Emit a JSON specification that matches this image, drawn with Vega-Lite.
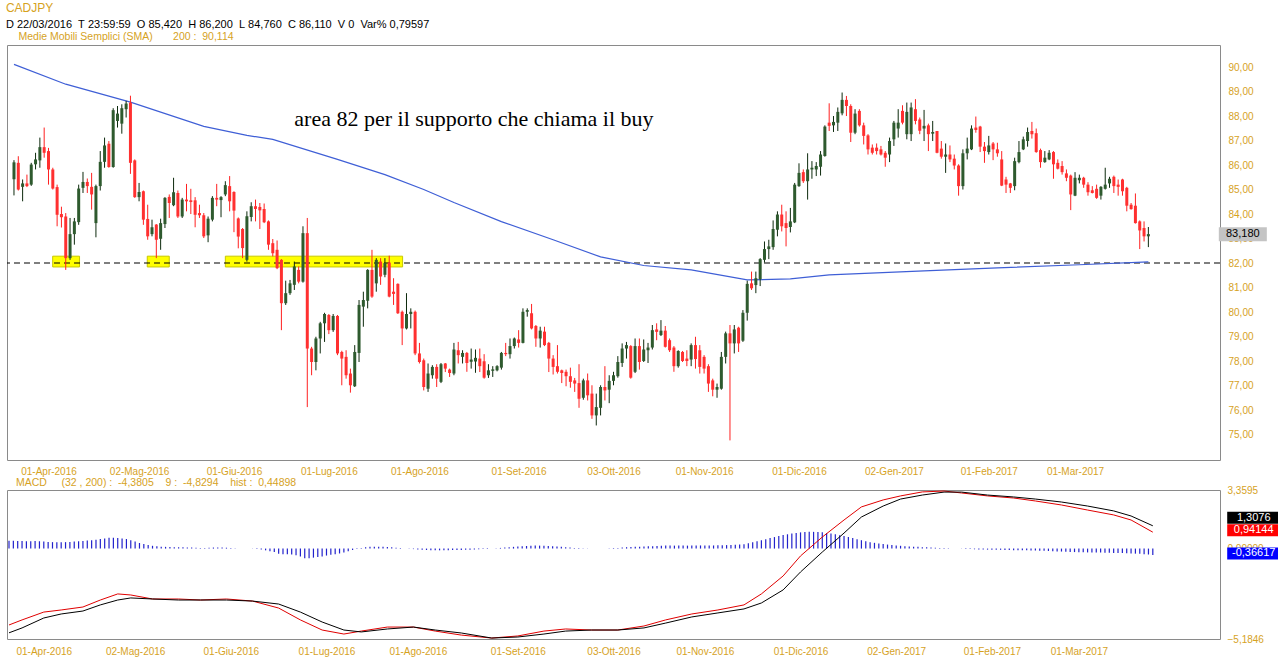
{
"$schema":"https://vega.github.io/schema/vega-lite/v6.json",
"background":"white",
"padding":{"left":5,"top":2,"right":0,"bottom":0},
"config":{"view":{"stroke":"#8a8a8a","strokeWidth":1},"font":"Liberation Sans","concat":{"spacing":0},"axis":{"labelOverlap":false,"labelSeparation":0}},
"title":{"text":"CADJPY","subtitle":"D\u00a022/03/2016\u00a0\u00a0T\u00a023:59:59\u00a0\u00a0O\u00a085,420\u00a0\u00a0H\u00a086,200\u00a0\u00a0L\u00a084,760\u00a0\u00a0C\u00a086,110\u00a0\u00a0V\u00a00\u00a0\u00a0Var%\u00a00,79597","anchor":"start","color":"#d6a21e","subtitleColor":"#000000","font":"Liberation Sans","subtitleFont":"Liberation Sans","fontSize":12,"subtitleFontSize":11,"fontWeight":"normal","subtitlePadding":4,"offset":0},
"datasets":{
"bars":[
{"i":0,"o":85.42,"h":86.2,"l":84.76,"c":86.11,"hs":0.45},
{"i":1,"o":86.09,"h":86.36,"l":84.96,"c":85.0,"hs":0.45},
{"i":2,"o":85.11,"h":85.41,"l":84.52,"c":85.25,"hs":0.44},
{"i":3,"o":85.25,"h":85.61,"l":85.1,"c":85.14,"hs":0.44},
{"i":4,"o":85.2,"h":86.09,"l":85.15,"c":86.02,"hs":0.42},
{"i":5,"o":86.03,"h":86.5,"l":85.82,"c":86.23,"hs":0.42},
{"i":6,"o":86.19,"h":87.12,"l":85.89,"c":86.73,"hs":0.43},
{"i":7,"o":86.73,"h":87.53,"l":86.3,"c":86.5,"hs":0.42},
{"i":8,"o":86.57,"h":86.7,"l":85.2,"c":85.82,"hs":0.40},
{"i":9,"o":85.82,"h":85.89,"l":85.0,"c":85.04,"hs":0.38},
{"i":10,"o":85.1,"h":85.2,"l":83.5,"c":83.97,"hs":0.37},
{"i":11,"o":84.0,"h":84.3,"l":83.45,"c":83.87,"hs":0.36},
{"i":12,"o":83.9,"h":84.04,"l":81.72,"c":82.2,"hs":0.36},
{"i":13,"o":82.2,"h":83.84,"l":82.13,"c":83.18,"hs":0.37},
{"i":14,"o":83.18,"h":83.84,"l":82.75,"c":83.7,"hs":0.38},
{"i":15,"o":83.67,"h":85.2,"l":83.56,"c":85.04,"hs":0.40},
{"i":16,"o":85.07,"h":85.72,"l":84.86,"c":85.31,"hs":0.42},
{"i":17,"o":85.31,"h":85.45,"l":84.86,"c":85.14,"hs":0.44},
{"i":18,"o":85.11,"h":85.68,"l":84.18,"c":84.8,"hs":0.46},
{"i":19,"o":83.63,"h":85.2,"l":83.05,"c":85.14,"hs":0.48},
{"i":20,"o":85.14,"h":86.57,"l":84.96,"c":86.13,"hs":0.50},
{"i":21,"o":86.13,"h":87.12,"l":85.89,"c":86.8,"hs":0.55},
{"i":22,"o":86.87,"h":86.98,"l":85.89,"c":85.92,"hs":0.58},
{"i":23,"o":85.92,"h":88.32,"l":85.89,"c":88.24,"hs":0.62},
{"i":24,"o":87.8,"h":88.41,"l":87.53,"c":88.1,"hs":0.62},
{"i":25,"o":87.69,"h":88.48,"l":87.28,"c":88.32,"hs":0.60},
{"i":26,"o":88.28,"h":88.62,"l":87.94,"c":88.51,"hs":0.58},
{"i":27,"o":88.55,"h":88.83,"l":85.64,"c":86.09,"hs":0.55},
{"i":28,"o":86.19,"h":86.23,"l":84.66,"c":84.69,"hs":0.48},
{"i":29,"o":84.69,"h":85.27,"l":84.52,"c":84.9,"hs":0.40},
{"i":30,"o":84.93,"h":84.96,"l":83.56,"c":83.77,"hs":0.32},
{"i":31,"o":83.8,"h":84.38,"l":82.95,"c":83.09,"hs":0.26},
{"i":32,"o":83.18,"h":83.77,"l":83.09,"c":83.46,"hs":0.20},
{"i":33,"o":83.57,"h":83.59,"l":82.2,"c":82.95,"hs":0.16},
{"i":34,"o":82.99,"h":83.81,"l":82.54,"c":83.63,"hs":0.13},
{"i":35,"o":83.59,"h":84.69,"l":83.43,"c":84.66,"hs":0.11},
{"i":36,"o":84.7,"h":84.8,"l":83.84,"c":84.45,"hs":0.10},
{"i":37,"o":84.36,"h":85.48,"l":84.32,"c":84.89,"hs":0.09},
{"i":38,"o":84.86,"h":84.96,"l":83.84,"c":83.9,"hs":0.08},
{"i":39,"o":83.9,"h":84.66,"l":83.84,"c":84.59,"hs":0.07},
{"i":40,"o":84.59,"h":85.23,"l":84.11,"c":84.52,"hs":0.07},
{"i":41,"o":84.56,"h":85.03,"l":84.0,"c":84.49,"hs":0.06},
{"i":42,"o":84.56,"h":84.69,"l":83.46,"c":83.97,"hs":0.06},
{"i":43,"o":84.04,"h":84.38,"l":83.84,"c":83.95,"hs":0.05},
{"i":44,"o":83.95,"h":84.04,"l":83.02,"c":83.09,"hs":0.04},
{"i":45,"o":83.13,"h":83.9,"l":82.85,"c":83.81,"hs":0.04},
{"i":46,"o":83.77,"h":84.73,"l":83.7,"c":84.66,"hs":0.05},
{"i":47,"o":84.66,"h":85.23,"l":84.32,"c":84.59,"hs":0.06},
{"i":48,"o":84.57,"h":84.73,"l":83.87,"c":84.69,"hs":0.06},
{"i":49,"o":84.8,"h":85.34,"l":84.73,"c":85.18,"hs":0.06},
{"i":50,"o":85.14,"h":85.55,"l":84.11,"c":84.52,"hs":0.05},
{"i":51,"o":84.9,"h":84.93,"l":83.26,"c":84.14,"hs":0.04},
{"i":52,"o":83.82,"h":83.86,"l":82.6,"c":83.08,"hs":0.02},
{"i":53,"o":83.39,"h":83.43,"l":82.2,"c":82.61,"hs":0.0},
{"i":54,"o":82.13,"h":84.11,"l":82.06,"c":83.91,"hs":0.0},
{"i":55,"o":83.88,"h":84.48,"l":83.7,"c":84.32,"hs":0.01},
{"i":56,"o":84.32,"h":84.59,"l":83.7,"c":84.21,"hs":0.01},
{"i":57,"o":84.29,"h":84.45,"l":83.39,"c":84.15,"hs":-0.02},
{"i":58,"o":84.21,"h":84.43,"l":83.63,"c":83.66,"hs":-0.05},
{"i":59,"o":83.7,"h":83.74,"l":82.54,"c":82.75,"hs":-0.10},
{"i":60,"o":82.81,"h":82.98,"l":82.27,"c":82.4,"hs":-0.15},
{"i":61,"o":82.54,"h":82.92,"l":81.75,"c":81.79,"hs":-0.20},
{"i":62,"o":82.13,"h":82.16,"l":79.26,"c":80.36,"hs":-0.30},
{"i":63,"o":80.36,"h":81.28,"l":80.29,"c":80.77,"hs":-0.32},
{"i":64,"o":80.77,"h":81.31,"l":80.7,"c":81.17,"hs":-0.33},
{"i":65,"o":81.11,"h":82.06,"l":80.9,"c":81.86,"hs":-0.34},
{"i":66,"o":81.72,"h":81.86,"l":81.17,"c":81.24,"hs":-0.38},
{"i":67,"o":81.24,"h":83.5,"l":81.2,"c":83.22,"hs":-0.45},
{"i":68,"o":83.22,"h":83.84,"l":76.12,"c":78.51,"hs":-0.55},
{"i":69,"o":78.51,"h":78.58,"l":77.42,"c":77.96,"hs":-0.55},
{"i":70,"o":77.96,"h":78.99,"l":77.62,"c":78.92,"hs":-0.52},
{"i":71,"o":78.92,"h":79.6,"l":78.31,"c":79.54,"hs":-0.48},
{"i":72,"o":79.54,"h":79.97,"l":78.78,"c":79.92,"hs":-0.45},
{"i":73,"o":79.88,"h":79.92,"l":79.1,"c":79.26,"hs":-0.40},
{"i":74,"o":79.26,"h":79.92,"l":79.19,"c":79.84,"hs":-0.35},
{"i":75,"o":79.84,"h":79.88,"l":78.24,"c":78.31,"hs":-0.32},
{"i":76,"o":78.37,"h":78.42,"l":77.01,"c":78.1,"hs":-0.28},
{"i":77,"o":78.17,"h":78.44,"l":77.28,"c":77.42,"hs":-0.22},
{"i":78,"o":77.49,"h":77.69,"l":76.71,"c":77.01,"hs":-0.15},
{"i":79,"o":76.97,"h":78.65,"l":76.94,"c":78.37,"hs":-0.08},
{"i":80,"o":78.33,"h":80.49,"l":77.96,"c":80.29,"hs":-0.02},
{"i":81,"o":80.22,"h":80.83,"l":79.4,"c":80.49,"hs":0.04},
{"i":82,"o":80.46,"h":81.75,"l":80.15,"c":81.72,"hs":0.08},
{"i":83,"o":81.72,"h":82.54,"l":80.58,"c":80.63,"hs":0.10},
{"i":84,"o":81.17,"h":82.2,"l":80.83,"c":82.13,"hs":0.11},
{"i":85,"o":82.06,"h":82.2,"l":81.11,"c":81.45,"hs":0.11},
{"i":86,"o":81.52,"h":82.2,"l":81.42,"c":82.0,"hs":0.10},
{"i":87,"o":82.02,"h":82.3,"l":80.6,"c":80.63,"hs":0.09},
{"i":88,"o":80.83,"h":81.38,"l":80.29,"c":80.74,"hs":0.07},
{"i":89,"o":81.15,"h":81.17,"l":79.92,"c":79.95,"hs":0.05},
{"i":90,"o":80.01,"h":80.06,"l":78.65,"c":79.33,"hs":0.03},
{"i":91,"o":79.33,"h":80.77,"l":79.29,"c":79.92,"hs":0.01},
{"i":92,"o":79.92,"h":80.15,"l":79.33,"c":80.01,"hs":-0.01},
{"i":93,"o":80.01,"h":80.06,"l":78.24,"c":78.31,"hs":-0.03},
{"i":94,"o":78.31,"h":78.74,"l":77.9,"c":77.96,"hs":-0.05},
{"i":95,"o":78.03,"h":78.1,"l":76.8,"c":76.94,"hs":-0.07},
{"i":96,"o":76.87,"h":77.9,"l":76.74,"c":77.49,"hs":-0.08},
{"i":97,"o":77.42,"h":77.83,"l":77.28,"c":77.76,"hs":-0.09},
{"i":98,"o":77.76,"h":77.87,"l":76.94,"c":77.28,"hs":-0.10},
{"i":99,"o":77.15,"h":77.92,"l":77.1,"c":77.87,"hs":-0.10},
{"i":100,"o":77.9,"h":77.92,"l":77.55,"c":77.69,"hs":-0.10},
{"i":101,"o":77.65,"h":77.69,"l":77.35,"c":77.51,"hs":-0.09},
{"i":102,"o":77.49,"h":78.74,"l":77.42,"c":78.47,"hs":-0.08},
{"i":103,"o":78.44,"h":78.78,"l":77.9,"c":78.24,"hs":-0.08},
{"i":104,"o":78.17,"h":78.44,"l":77.9,"c":78.33,"hs":-0.08},
{"i":105,"o":78.33,"h":78.37,"l":77.56,"c":77.92,"hs":-0.07},
{"i":106,"o":77.97,"h":78.51,"l":77.69,"c":78.06,"hs":-0.06},
{"i":107,"o":77.98,"h":78.47,"l":77.52,"c":78.13,"hs":-0.05},
{"i":108,"o":78.1,"h":78.51,"l":77.55,"c":77.79,"hs":-0.04},
{"i":109,"o":77.99,"h":78.28,"l":77.28,"c":77.32,"hs":-0.03},
{"i":110,"o":77.42,"h":77.87,"l":77.31,"c":77.62,"hs":-0.02},
{"i":111,"o":77.6,"h":77.79,"l":77.35,"c":77.66,"hs":0.0},
{"i":112,"o":77.62,"h":77.83,"l":77.58,"c":77.79,"hs":0.02},
{"i":113,"o":77.73,"h":78.37,"l":77.65,"c":78.33,"hs":0.04},
{"i":114,"o":78.33,"h":78.74,"l":78.2,"c":78.28,"hs":0.06},
{"i":115,"o":78.28,"h":78.92,"l":78.1,"c":78.61,"hs":0.08},
{"i":116,"o":78.61,"h":78.96,"l":78.51,"c":78.92,"hs":0.10},
{"i":117,"o":78.88,"h":79.26,"l":78.55,"c":78.74,"hs":0.12},
{"i":118,"o":78.74,"h":80.15,"l":78.72,"c":80.01,"hs":0.14},
{"i":119,"o":80.01,"h":80.15,"l":79.81,"c":80.08,"hs":0.15},
{"i":120,"o":79.95,"h":80.33,"l":79.29,"c":79.33,"hs":0.16},
{"i":121,"o":79.43,"h":79.47,"l":78.58,"c":78.92,"hs":0.17},
{"i":122,"o":78.92,"h":79.4,"l":78.55,"c":79.24,"hs":0.17},
{"i":123,"o":79.2,"h":79.4,"l":78.61,"c":78.65,"hs":0.16},
{"i":124,"o":78.74,"h":78.78,"l":77.55,"c":78.1,"hs":0.15},
{"i":125,"o":78.1,"h":78.24,"l":77.45,"c":77.76,"hs":0.14},
{"i":126,"o":77.79,"h":78.65,"l":77.49,"c":77.56,"hs":0.12},
{"i":127,"o":77.62,"h":77.65,"l":77.1,"c":77.51,"hs":0.10},
{"i":128,"o":77.56,"h":77.65,"l":76.97,"c":77.38,"hs":0.08},
{"i":129,"o":77.38,"h":77.73,"l":76.91,"c":77.15,"hs":0.06},
{"i":130,"o":77.21,"h":77.31,"l":76.74,"c":77.08,"hs":0.04},
{"i":131,"o":77.1,"h":77.87,"l":76.09,"c":76.46,"hs":0.03},
{"i":132,"o":76.5,"h":77.28,"l":76.42,"c":77.21,"hs":0.02},
{"i":133,"o":77.21,"h":77.49,"l":76.39,"c":76.6,"hs":0.01},
{"i":134,"o":76.67,"h":77.01,"l":75.64,"c":75.78,"hs":0.0},
{"i":135,"o":75.78,"h":76.67,"l":75.37,"c":76.12,"hs":0.0},
{"i":136,"o":76.09,"h":77.01,"l":75.78,"c":76.94,"hs":0.0},
{"i":137,"o":76.94,"h":77.79,"l":76.39,"c":76.8,"hs":0.01},
{"i":138,"o":76.83,"h":77.42,"l":76.28,"c":77.19,"hs":0.02},
{"i":139,"o":77.19,"h":77.56,"l":77.01,"c":77.42,"hs":0.03},
{"i":140,"o":77.38,"h":78.2,"l":77.32,"c":77.96,"hs":0.04},
{"i":141,"o":77.92,"h":78.72,"l":77.76,"c":78.51,"hs":0.06},
{"i":142,"o":78.51,"h":78.78,"l":78.1,"c":78.65,"hs":0.08},
{"i":143,"o":78.61,"h":78.65,"l":77.28,"c":77.32,"hs":0.09},
{"i":144,"o":77.56,"h":78.92,"l":77.51,"c":78.61,"hs":0.10},
{"i":145,"o":78.61,"h":78.92,"l":77.65,"c":77.96,"hs":0.11},
{"i":146,"o":78.0,"h":78.88,"l":77.96,"c":78.47,"hs":0.12},
{"i":147,"o":78.44,"h":78.74,"l":77.92,"c":78.55,"hs":0.13},
{"i":148,"o":78.55,"h":79.47,"l":78.47,"c":79.26,"hs":0.14},
{"i":149,"o":79.29,"h":79.54,"l":78.85,"c":79.19,"hs":0.15},
{"i":150,"o":79.06,"h":79.67,"l":79.02,"c":79.24,"hs":0.16},
{"i":151,"o":79.24,"h":79.43,"l":78.55,"c":78.58,"hs":0.17},
{"i":152,"o":78.85,"h":78.92,"l":78.37,"c":78.44,"hs":0.17},
{"i":153,"o":78.55,"h":78.61,"l":77.56,"c":77.79,"hs":0.17},
{"i":154,"o":77.79,"h":78.44,"l":77.73,"c":78.41,"hs":0.17},
{"i":155,"o":78.37,"h":78.41,"l":77.96,"c":78.0,"hs":0.17},
{"i":156,"o":78.1,"h":78.44,"l":77.79,"c":78.0,"hs":0.17},
{"i":157,"o":78.06,"h":78.72,"l":77.79,"c":78.65,"hs":0.17},
{"i":158,"o":78.65,"h":78.99,"l":77.69,"c":78.08,"hs":0.17},
{"i":159,"o":78.44,"h":78.65,"l":77.49,"c":77.76,"hs":0.18},
{"i":160,"o":78.17,"h":78.24,"l":77.49,"c":77.69,"hs":0.18},
{"i":161,"o":77.79,"h":77.87,"l":76.74,"c":77.08,"hs":0.18},
{"i":162,"o":77.21,"h":77.28,"l":76.56,"c":76.83,"hs":0.18},
{"i":163,"o":76.83,"h":77.08,"l":76.5,"c":76.94,"hs":0.19},
{"i":164,"o":76.87,"h":78.37,"l":76.83,"c":78.17,"hs":0.19},
{"i":165,"o":78.17,"h":79.2,"l":77.9,"c":79.13,"hs":0.20},
{"i":166,"o":79.13,"h":79.47,"l":74.76,"c":78.72,"hs":0.21},
{"i":167,"o":78.72,"h":79.47,"l":78.31,"c":79.29,"hs":0.22},
{"i":168,"o":79.36,"h":79.4,"l":78.37,"c":78.72,"hs":0.23},
{"i":169,"o":78.83,"h":80.08,"l":78.78,"c":79.97,"hs":0.25},
{"i":170,"o":79.97,"h":81.28,"l":79.65,"c":81.15,"hs":0.30},
{"i":171,"o":81.17,"h":81.65,"l":80.9,"c":80.97,"hs":0.36},
{"i":172,"o":81.1,"h":81.65,"l":80.77,"c":81.38,"hs":0.42},
{"i":173,"o":81.34,"h":82.2,"l":81.06,"c":82.16,"hs":0.48},
{"i":174,"o":82.13,"h":82.88,"l":82.02,"c":82.57,"hs":0.54},
{"i":175,"o":82.57,"h":82.95,"l":82.16,"c":82.68,"hs":0.60},
{"i":176,"o":82.65,"h":83.74,"l":82.54,"c":83.39,"hs":0.66},
{"i":177,"o":83.36,"h":84.11,"l":83.09,"c":83.98,"hs":0.72},
{"i":178,"o":83.98,"h":84.38,"l":83.29,"c":83.5,"hs":0.78},
{"i":179,"o":83.63,"h":84.11,"l":82.68,"c":83.43,"hs":0.82},
{"i":180,"o":83.47,"h":84.25,"l":83.25,"c":83.7,"hs":0.86},
{"i":181,"o":83.66,"h":85.27,"l":83.63,"c":85.2,"hs":0.90},
{"i":182,"o":85.14,"h":86.07,"l":85.11,"c":85.68,"hs":0.93},
{"i":183,"o":85.71,"h":85.82,"l":85.27,"c":85.34,"hs":0.95},
{"i":184,"o":85.34,"h":86.48,"l":84.59,"c":85.82,"hs":0.96},
{"i":185,"o":85.82,"h":86.16,"l":85.44,"c":85.89,"hs":0.96},
{"i":186,"o":85.82,"h":86.12,"l":85.55,"c":85.96,"hs":0.95},
{"i":187,"o":85.93,"h":86.57,"l":85.57,"c":86.43,"hs":0.93},
{"i":188,"o":86.37,"h":87.62,"l":86.34,"c":87.57,"hs":0.90},
{"i":189,"o":87.73,"h":88.52,"l":87.39,"c":87.6,"hs":0.86},
{"i":190,"o":87.62,"h":88.0,"l":87.35,"c":87.76,"hs":0.82},
{"i":191,"o":87.73,"h":88.35,"l":87.39,"c":88.17,"hs":0.77},
{"i":192,"o":88.11,"h":88.96,"l":88.03,"c":88.66,"hs":0.72},
{"i":193,"o":88.66,"h":88.82,"l":88.0,"c":88.41,"hs":0.66},
{"i":194,"o":88.41,"h":88.48,"l":86.94,"c":87.32,"hs":0.60},
{"i":195,"o":87.32,"h":88.28,"l":87.26,"c":88.1,"hs":0.54},
{"i":196,"o":88.21,"h":88.28,"l":87.57,"c":87.62,"hs":0.48},
{"i":197,"o":87.62,"h":87.73,"l":86.84,"c":87.19,"hs":0.42},
{"i":198,"o":87.21,"h":87.26,"l":86.43,"c":86.64,"hs":0.37},
{"i":199,"o":86.71,"h":86.84,"l":86.43,"c":86.5,"hs":0.33},
{"i":200,"o":86.71,"h":86.88,"l":86.43,"c":86.57,"hs":0.29},
{"i":201,"o":86.64,"h":86.78,"l":86.39,"c":86.43,"hs":0.26},
{"i":202,"o":86.5,"h":86.57,"l":85.93,"c":86.3,"hs":0.23},
{"i":203,"o":86.43,"h":87.12,"l":86.12,"c":86.98,"hs":0.20},
{"i":204,"o":87.05,"h":87.8,"l":86.78,"c":87.73,"hs":0.18},
{"i":205,"o":87.49,"h":88.28,"l":87.12,"c":87.73,"hs":0.16},
{"i":206,"o":88.21,"h":88.44,"l":87.66,"c":87.73,"hs":0.14},
{"i":207,"o":87.26,"h":88.55,"l":87.05,"c":88.17,"hs":0.12},
{"i":208,"o":87.26,"h":88.55,"l":86.98,"c":88.35,"hs":0.11},
{"i":209,"o":88.28,"h":88.69,"l":87.66,"c":87.8,"hs":0.10},
{"i":210,"o":87.86,"h":87.94,"l":87.26,"c":87.4,"hs":0.08},
{"i":211,"o":87.49,"h":88.25,"l":86.98,"c":87.6,"hs":0.07},
{"i":212,"o":87.62,"h":87.69,"l":86.57,"c":87.26,"hs":0.06},
{"i":213,"o":87.28,"h":87.8,"l":86.98,"c":87.35,"hs":0.05},
{"i":214,"o":87.39,"h":87.39,"l":86.48,"c":86.5,"hs":0.04},
{"i":215,"o":86.67,"h":86.98,"l":86.26,"c":86.34,"hs":0.03},
{"i":216,"o":86.34,"h":86.88,"l":85.68,"c":86.43,"hs":0.02},
{"i":217,"o":86.43,"h":86.8,"l":86.12,"c":86.23,"hs":0.01},
{"i":218,"o":86.26,"h":86.43,"l":85.82,"c":85.98,"hs":0.0},
{"i":219,"o":85.98,"h":86.03,"l":84.75,"c":85.14,"hs":-0.01},
{"i":220,"o":85.14,"h":86.64,"l":85.0,"c":86.48,"hs":-0.02},
{"i":221,"o":86.48,"h":87.12,"l":86.23,"c":86.67,"hs":-0.03},
{"i":222,"o":86.64,"h":87.62,"l":86.61,"c":87.49,"hs":-0.04},
{"i":223,"o":87.53,"h":87.98,"l":87.32,"c":87.43,"hs":-0.05},
{"i":224,"o":87.57,"h":87.6,"l":86.53,"c":86.75,"hs":-0.05},
{"i":225,"o":86.75,"h":86.94,"l":86.09,"c":86.57,"hs":-0.06},
{"i":226,"o":86.53,"h":87.19,"l":86.43,"c":86.8,"hs":-0.06},
{"i":227,"o":86.88,"h":86.94,"l":86.2,"c":86.64,"hs":-0.07},
{"i":228,"o":86.64,"h":86.91,"l":86.34,"c":86.48,"hs":-0.07},
{"i":229,"o":86.23,"h":86.57,"l":85.14,"c":85.16,"hs":-0.08},
{"i":230,"o":85.41,"h":85.52,"l":84.86,"c":85.2,"hs":-0.08},
{"i":231,"o":85.25,"h":85.27,"l":84.86,"c":85.07,"hs":-0.09},
{"i":232,"o":85.14,"h":86.3,"l":84.97,"c":86.16,"hs":-0.09},
{"i":233,"o":86.12,"h":86.98,"l":86.07,"c":86.53,"hs":-0.10},
{"i":234,"o":86.64,"h":87.16,"l":86.61,"c":87.05,"hs":-0.10},
{"i":235,"o":86.98,"h":87.53,"l":86.75,"c":87.35,"hs":-0.11},
{"i":236,"o":87.39,"h":87.76,"l":87.08,"c":87.26,"hs":-0.11},
{"i":237,"o":87.3,"h":87.49,"l":86.5,"c":86.53,"hs":-0.12},
{"i":238,"o":86.61,"h":86.67,"l":85.89,"c":86.12,"hs":-0.13},
{"i":239,"o":86.12,"h":86.57,"l":86.09,"c":86.3,"hs":-0.14},
{"i":240,"o":86.23,"h":86.61,"l":86.2,"c":86.5,"hs":-0.15},
{"i":241,"o":86.53,"h":86.57,"l":85.44,"c":86.03,"hs":-0.16},
{"i":242,"o":86.09,"h":86.23,"l":85.82,"c":85.85,"hs":-0.17},
{"i":243,"o":85.96,"h":86.16,"l":85.61,"c":85.71,"hs":-0.18},
{"i":244,"o":85.66,"h":85.82,"l":85.34,"c":85.48,"hs":-0.19},
{"i":245,"o":85.57,"h":85.61,"l":84.16,"c":84.8,"hs":-0.20},
{"i":246,"o":84.75,"h":85.71,"l":84.73,"c":85.48,"hs":-0.21},
{"i":247,"o":85.38,"h":85.61,"l":85.25,"c":85.48,"hs":-0.21},
{"i":248,"o":85.48,"h":85.52,"l":85.07,"c":85.2,"hs":-0.22},
{"i":249,"o":85.2,"h":85.3,"l":84.75,"c":84.89,"hs":-0.22},
{"i":250,"o":84.97,"h":85.14,"l":84.84,"c":84.86,"hs":-0.23},
{"i":251,"o":85.03,"h":85.2,"l":84.62,"c":84.66,"hs":-0.23},
{"i":252,"o":84.75,"h":85.14,"l":84.59,"c":85.11,"hs":-0.24},
{"i":253,"o":85.03,"h":85.89,"l":85.0,"c":85.2,"hs":-0.24},
{"i":254,"o":85.25,"h":85.52,"l":85.07,"c":85.44,"hs":-0.25},
{"i":255,"o":85.52,"h":85.57,"l":84.86,"c":85.14,"hs":-0.25},
{"i":256,"o":85.2,"h":85.41,"l":84.75,"c":85.11,"hs":-0.26},
{"i":257,"o":85.41,"h":85.44,"l":84.75,"c":84.93,"hs":-0.27},
{"i":258,"o":85.07,"h":85.11,"l":84.11,"c":84.34,"hs":-0.28},
{"i":259,"o":84.38,"h":84.45,"l":84.18,"c":84.2,"hs":-0.29},
{"i":260,"o":84.34,"h":84.84,"l":83.61,"c":83.63,"hs":-0.30},
{"i":261,"o":83.7,"h":83.74,"l":82.57,"c":83.33,"hs":-0.32},
{"i":262,"o":83.43,"h":83.7,"l":82.88,"c":83.09,"hs":-0.34},
{"i":263,"o":83.09,"h":83.47,"l":82.65,"c":83.18,"hs":-0.37}
],
"sma":[
{"i":0,"v":90.11},{"i":12,"v":89.3},{"i":27,"v":88.57},{"i":44,"v":87.58},{"i":54,"v":87.21},{"i":60,"v":87.05},{"i":75,"v":86.23},{"i":86,"v":85.61},{"i":95,"v":85.0},{"i":102,"v":84.47},{"i":113,"v":83.69},{"i":125,"v":82.95},{"i":136,"v":82.25},{"i":146,"v":81.9},{"i":157,"v":81.72},{"i":170,"v":81.31},{"i":180,"v":81.35},{"i":189,"v":81.52},{"i":211,"v":81.68},{"i":228,"v":81.8},{"i":247,"v":81.93},{"i":263,"v":82.05}
],
"macd":[
{"i":0,"m":-4.38,"s":-4.83},{"i":3,"m":-4.09,"s":-4.55},{"i":8,"m":-3.64,"s":-3.98},{"i":12,"m":-3.52,"s":-3.75},{"i":17,"m":-3.35,"s":-3.58},{"i":21,"m":-2.95,"s":-3.23},{"i":25,"m":-2.6,"s":-2.95},{"i":28,"m":-2.66,"s":-2.83},{"i":33,"m":-2.89,"s":-2.89},{"i":39,"m":-2.89,"s":-2.95},{"i":44,"m":-2.95,"s":-2.95},{"i":50,"m":-2.89,"s":-2.95},{"i":56,"m":-3.01,"s":-3.01},{"i":62,"m":-3.41,"s":-3.18},{"i":67,"m":-4.09,"s":-3.64},{"i":72,"m":-4.67,"s":-4.21},{"i":77,"m":-4.9,"s":-4.67},{"i":81,"m":-4.73,"s":-4.78},{"i":87,"m":-4.5,"s":-4.61},{"i":93,"m":-4.5,"s":-4.5},{"i":98,"m":-4.73,"s":-4.67},{"i":104,"m":-4.96,"s":-4.84},{"i":111,"m":-5.13,"s":-5.13},{"i":117,"m":-5.01,"s":-5.07},{"i":123,"m":-4.73,"s":-4.9},{"i":128,"m":-4.61,"s":-4.73},{"i":134,"m":-4.67,"s":-4.67},{"i":140,"m":-4.67,"s":-4.67},{"i":146,"m":-4.44,"s":-4.55},{"i":151,"m":-4.09,"s":-4.27},{"i":157,"m":-3.75,"s":-3.92},{"i":163,"m":-3.52,"s":-3.69},{"i":169,"m":-3.23,"s":-3.46},{"i":173,"m":-2.6,"s":-3.12},{"i":178,"m":-1.57,"s":-2.37},{"i":182,"m":-0.42,"s":-1.34},{"i":187,"m":0.66,"s":-0.2},{"i":192,"m":1.64,"s":0.89},{"i":196,"m":2.39,"s":1.81},{"i":201,"m":2.79,"s":2.44},{"i":205,"m":3.02,"s":2.84},{"i":210,"m":3.25,"s":3.07},{"i":215,"m":3.3,"s":3.24},{"i":219,"m":3.19,"s":3.24},{"i":225,"m":3.02,"s":3.07},{"i":231,"m":2.9,"s":2.96},{"i":236,"m":2.73,"s":2.84},{"i":242,"m":2.5,"s":2.67},{"i":248,"m":2.21,"s":2.44},{"i":254,"m":1.93,"s":2.16},{"i":258,"m":1.64,"s":1.87},{"i":263,"m":0.94144,"s":1.3076}
],
"zones":[
{"i":8.97,"i2":15.2,"lo":81.84,"hi":82.28},
{"i":30.9,"i2":36.0,"lo":81.84,"hi":82.28},
{"i":49.0,"i2":90.1,"lo":81.84,"hi":82.28}
],
"tagm":[
{"k":"sig","v":1.3076,"t":"1,3076"},
{"k":"macd","v":0.94144,"t":"0,94144"},
{"k":"hist","v":-0.36617,"t":"-0,36617"}
]
},
"vconcat":[
{
"width":1213,"height":415,
"title":{"text":"Medie Mobili Semplici (SMA)\u00a0\u00a0\u00a0\u00a0\u00a0\u00a0\u00a0200\u00a0:\u00a0\u00a090,114","anchor":"start","dx":12,"fontSize":10.5,"fontWeight":"normal","color":"#d6a21e","offset":3},
"layer":[
{"data":{"name":"zones"},"mark":{"type":"rect","fill":"#ffff00","stroke":"#c8c800","strokeWidth":1},
"encoding":{
"x":{"field":"i","type":"quantitative","title":null,"scale":{"domain":[-0.46,278.45],"nice":false,"zero":false},
"axis":{"values":[8,29,51,73,94,117,139,160,182,204,226,246],"tickCount":40,"labelExpr":"datum.value==8?'01-Apr-2016':datum.value==29?'02-Mag-2016':datum.value==51?'01-Giu-2016':datum.value==73?'01-Lug-2016':datum.value==94?'01-Ago-2016':datum.value==117?'01-Set-2016':datum.value==139?'03-Ott-2016':datum.value==160?'01-Nov-2016':datum.value==182?'01-Dic-2016':datum.value==204?'02-Gen-2017':datum.value==226?'01-Feb-2017':'01-Mar-2017'","title":null,"grid":false,"ticks":false,"domain":false,"labelColor":"#d6a21e","labelFontSize":10,"labelPadding":6,"labelFlush":false,"labelOverlap":false}},
"x2":{"field":"i2"},
"y":{"field":"lo","type":"quantitative","title":null,"scale":{"domain":[73.96,90.9],"nice":false,"zero":false},
"axis":{"orient":"right","values":[75,76,77,78,79,80,81,82,83,84,85,86,87,88,89,90],"tickCount":40,"labelExpr":"replace(format(datum.value,'.2f'),'.',',')","title":null,"grid":false,"ticks":false,"domain":false,"labelColor":"#d6a21e","labelFontSize":10,"labelPadding":8,"labelFlush":false,"labelOverlap":false}},
"y2":{"field":"hi"}}},
{"data":{"values":[{"level":82}]},"mark":{"type":"rule","color":"#000000","strokeDash":[6,4],"strokeWidth":1.1},
"encoding":{"y":{"field":"level","type":"quantitative","title":null,"scale":{"domain":[73.96,90.9],"nice":false,"zero":false}}}},
{"data":{"name":"sma"},"mark":{"type":"line","color":"#3f5fd6","strokeWidth":1.2},
"encoding":{"x":{"field":"i","type":"quantitative","title":null},"y":{"field":"v","type":"quantitative","title":null,"scale":{"domain":[73.96,90.9],"nice":false,"zero":false}}}},
{"data":{"name":"bars"},"mark":{"type":"rule","strokeWidth":1},
"encoding":{"x":{"field":"i","type":"quantitative","title":null},"y":{"field":"l","type":"quantitative","title":null,"scale":{"domain":[73.96,90.9],"nice":false,"zero":false}},"y2":{"field":"h"},
"color":{"condition":{"test":"datum.c >= datum.o","value":"#0d2a0d"},"value":"#ff2020"}}},
{"data":{"name":"bars"},"mark":{"type":"bar","size":3},
"encoding":{"x":{"field":"i","type":"quantitative","title":null},"y":{"field":"o","type":"quantitative","title":null,"scale":{"domain":[73.96,90.9],"nice":false,"zero":false}},"y2":{"field":"c"},
"color":{"condition":{"test":"datum.c >= datum.o","value":"#2e5a2e"},"value":"#ff3030"}}},
{"data":{"values":[{"t":"area 82 per il supporto che chiama il buy"}]},"mark":{"type":"text","align":"left","baseline":"middle","font":"Liberation Serif","fontSize":22,"color":"#000000"},
"encoding":{"x":{"datum":65,"type":"quantitative","title":null},"y":{"datum":87.87,"type":"quantitative","title":null,"scale":{"domain":[73.96,90.9],"nice":false,"zero":false}},"text":{"field":"t"}}},
{"data":{"values":[{"v":83.18,"t":"83,180"}]},"mark":{"type":"tick","orient":"horizontal","size":48,"thickness":14,"color":"#c4c4c4","opacity":1},
"encoding":{"x":{"datum":284.9,"type":"quantitative","title":null},"y":{"field":"v","type":"quantitative","title":null,"scale":{"domain":[73.96,90.9],"nice":false,"zero":false}}}},
{"data":{"values":[{"v":83.18,"t":"83,180"}]},"mark":{"type":"text","align":"center","baseline":"middle","fontSize":11,"color":"#000000"},
"encoding":{"x":{"datum":284.9,"type":"quantitative","title":null},"y":{"field":"v","type":"quantitative","title":null,"scale":{"domain":[73.96,90.9],"nice":false,"zero":false}},"text":{"field":"t"}}}
]
},
{
"width":1213,"height":149,
"title":{"text":"MACD\u00a0\u00a0\u00a0\u00a0\u00a0(32\u00a0,\u00a0200)\u00a0:\u00a0\u00a0-4,3805\u00a0\u00a0\u00a0\u00a09\u00a0:\u00a0\u00a0-4,8294\u00a0\u00a0\u00a0\u00a0hist\u00a0:\u00a0\u00a00,44898","anchor":"start","dx":9,"fontSize":10.5,"fontWeight":"normal","color":"#d6a21e","offset":-3},
"layer":[
{"data":{"name":"bars"},"mark":{"type":"rule","color":"#2222cc","strokeWidth":1.2},
"encoding":{
"x":{"field":"i","type":"quantitative","title":null,"scale":{"domain":[-0.46,278.45],"nice":false,"zero":false},
"axis":{"values":[8,29,51,73,94,117,139,160,182,204,226,246],"tickCount":40,"labelExpr":"datum.value==8?'01-Apr-2016':datum.value==29?'02-Mag-2016':datum.value==51?'01-Giu-2016':datum.value==73?'01-Lug-2016':datum.value==94?'01-Ago-2016':datum.value==117?'01-Set-2016':datum.value==139?'03-Ott-2016':datum.value==160?'01-Nov-2016':datum.value==182?'01-Dic-2016':datum.value==204?'02-Gen-2017':datum.value==226?'01-Feb-2017':'01-Mar-2017'","title":null,"grid":false,"ticks":false,"domain":false,"labelColor":"#d6a21e","labelFontSize":10,"labelPadding":7,"labelFlush":false,"labelOverlap":false}},
"y":{"field":"hs","type":"quantitative","title":null,"scale":{"domain":[-5.1846,3.3595],"nice":false,"zero":false},
"axis":{"orient":"right","values":[3.3595,0,-5.1846],"tickCount":10,"labelExpr":"datum.value==0?'0,00000':replace(format(datum.value,'.4f'),'.',',')","title":null,"grid":false,"ticks":false,"domain":false,"labelColor":"#d6a21e","labelFontSize":10,"labelPadding":7,"labelFlush":false,"labelOverlap":false}},
"y2":{"datum":0}}},
{"data":{"name":"macd"},"mark":{"type":"line","color":"#e00000","strokeWidth":1},
"encoding":{"x":{"field":"i","type":"quantitative","title":null},"y":{"field":"m","type":"quantitative","title":null,"scale":{"domain":[-5.1846,3.3595],"nice":false,"zero":false}}}},
{"data":{"name":"macd"},"mark":{"type":"line","color":"#000000","strokeWidth":1},
"encoding":{"x":{"field":"i","type":"quantitative","title":null},"y":{"field":"s","type":"quantitative","title":null,"scale":{"domain":[-5.1846,3.3595],"nice":false,"zero":false}}}},
{"data":{"name":"tagm"},"mark":{"type":"tick","orient":"horizontal","size":53,"thickness":12,"opacity":1,"yOffset":{"expr":"datum.k=='sig'?-8:datum.k=='macd'?-2:-1.5"}},
"encoding":{"x":{"datum":286.2,"type":"quantitative","title":null},"y":{"field":"v","type":"quantitative","title":null,"scale":{"domain":[-5.1846,3.3595],"nice":false,"zero":false}},
"color":{"field":"k","type":"nominal","scale":{"domain":["sig","macd","hist"],"range":["#000000","#ff0000","#0000ff"]},"legend":null}}},
{"data":{"name":"tagm"},"mark":{"type":"text","align":"center","baseline":"middle","fontSize":11,"color":"#ffffff","yOffset":{"expr":"datum.k=='sig'?-8:datum.k=='macd'?-2:-1.5"}},
"encoding":{"x":{"datum":286.2,"type":"quantitative","title":null},"y":{"field":"v","type":"quantitative","title":null,"scale":{"domain":[-5.1846,3.3595],"nice":false,"zero":false}},"text":{"field":"t"}}}
]
}
]
}
